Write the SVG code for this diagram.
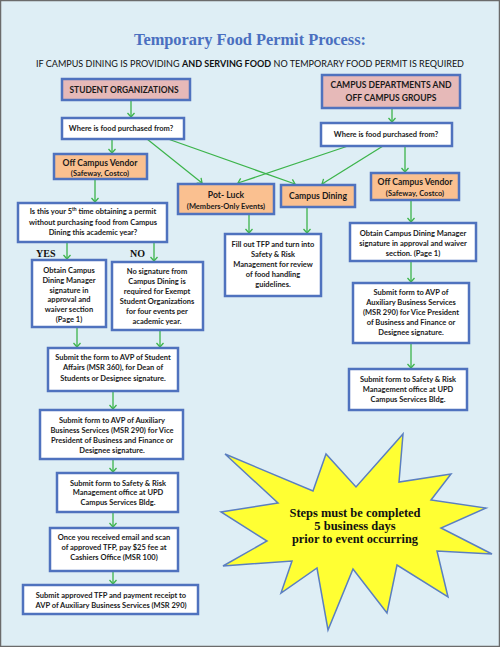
<svg xmlns="http://www.w3.org/2000/svg" width="500" height="647" viewBox="0 0 500 647">
<defs>
<marker id="ah" markerWidth="10" markerHeight="10" refX="5" refY="5" orient="auto" markerUnits="userSpaceOnUse">
<path d="M1,1.5 L5,5 L1,8.5" fill="none" stroke="#3cb44b" stroke-width="1.3"/>
</marker>
<style>
.box{fill:#ffffff;stroke:#4f72be;stroke-width:2.5}
.org{fill:#fac090;stroke:#4f72be;stroke-width:2.5}
.pink{fill:#e6b9b8;stroke:#4f72be;stroke-width:2.5}
.t{font-family:Lato,"Liberation Sans",sans-serif;font-weight:bold;font-size:7.5px;fill:#1a1a1a;text-anchor:middle}
.h{font-family:Lato,"Liberation Sans",sans-serif;font-weight:bold;font-size:9px;fill:#1a1a1a;text-anchor:middle}
.tl{font-family:Lato,"Liberation Sans",sans-serif;font-weight:bold;font-size:8.6px;fill:#1a1a1a;text-anchor:middle}
.s{font-family:"Liberation Serif",serif;font-weight:bold;fill:#111}
.c line{stroke:#3cb44b;stroke-width:1.3;marker-end:url(#ah)}
</style>
</defs>
<rect x="0.5" y="0.5" width="499" height="646" fill="#deeef5" stroke="#6b6b6b" stroke-width="1.5"/>
<text x="250" y="45" font-family="Liberation Serif,serif" font-weight="bold" font-size="17" fill="#4a6fc0" text-anchor="middle" textLength="232" lengthAdjust="spacingAndGlyphs">Temporary Food Permit Process:</text>
<text x="250" y="67" font-family="Lato,Liberation Sans,sans-serif" font-size="9" fill="#111" text-anchor="middle" textLength="428" lengthAdjust="spacingAndGlyphs">IF CAMPUS DINING IS PROVIDING <tspan font-weight="bold">AND SERVING FOOD</tspan> NO TEMPORARY FOOD PERMIT IS REQUIRED</text>

<g class="c">
<line x1="131" y1="100" x2="131" y2="117"/>
<line x1="392" y1="108" x2="392" y2="122"/>
<line x1="112" y1="139" x2="112" y2="153"/>
<line x1="147" y1="139" x2="202" y2="183"/>
<line x1="168" y1="139" x2="295" y2="184"/>
<line x1="348" y1="146" x2="238" y2="183"/>
<line x1="383" y1="146" x2="322" y2="184"/>
<line x1="405" y1="146" x2="405" y2="172"/>
<line x1="95" y1="179" x2="95" y2="202"/>
<line x1="67" y1="242" x2="67" y2="259"/>
<line x1="154" y1="242" x2="154" y2="261"/>
<line x1="249" y1="214" x2="249" y2="233"/>
<line x1="307" y1="207" x2="307" y2="233"/>
<line x1="411" y1="200" x2="411" y2="222"/>
<line x1="411" y1="261" x2="411" y2="282"/>
<line x1="411" y1="343" x2="411" y2="368"/>
<line x1="77" y1="327" x2="77" y2="347"/>
<line x1="160" y1="330" x2="160" y2="347"/>
<line x1="113" y1="391" x2="113" y2="409"/>
<line x1="113" y1="459" x2="113" y2="472"/>
<line x1="113" y1="512" x2="113" y2="527"/>
<line x1="113" y1="571" x2="113" y2="584"/>
</g>

<g id="student-orgs">
<rect class="pink" x="62" y="79" width="128" height="21"/>
<text class="h" x="124" y="93" textLength="109" lengthAdjust="spacingAndGlyphs">STUDENT ORGANIZATIONS</text>
</g>
<g id="campus-depts">
<rect class="pink" x="322" y="75" width="138" height="33"/>
<text class="h" x="391" y="88" textLength="121" lengthAdjust="spacingAndGlyphs">CAMPUS DEPARTMENTS AND</text>
<text class="h" x="391" y="101" textLength="91" lengthAdjust="spacingAndGlyphs">OFF CAMPUS GROUPS</text>
</g>
<g id="where-left">
<rect class="box" x="62" y="118" width="122" height="21"/>
<text class="t" x="121" y="131">Where is food purchased from?</text>
</g>
<g id="where-right">
<rect class="box" x="321" y="123" width="131" height="23"/>
<text class="t" x="386" y="137">Where is food purchased from?</text>
</g>
<g id="vendor-left">
<rect class="org" x="54" y="154" width="93" height="25"/>
<text class="tl" x="100" y="166">Off Campus Vendor</text>
<text class="t" x="100" y="176">(Safeway, Costco)</text>
</g>
<g id="potluck">
<rect class="org" x="178" y="184" width="96" height="30"/>
<text class="tl" x="226" y="198">Pot- Luck</text>
<text class="t" x="226" y="209">(Members-Only Events)</text>
</g>
<g id="campus-dining">
<rect class="org" x="281" y="185" width="74" height="22"/>
<text class="tl" x="318" y="199">Campus Dining</text>
</g>
<g id="vendor-right">
<rect class="org" x="371" y="173" width="88" height="27"/>
<text class="tl" x="415" y="185">Off Campus Vendor</text>
<text class="t" x="415" y="196">(Safeway, Costco)</text>
</g>
<g id="fifth-time">
<rect class="box" x="18" y="203" width="149" height="39"/>
<text class="t" x="93" y="214">Is this your 5<tspan font-size="5" dy="-3">th</tspan><tspan dy="3"> time obtaining a permit</tspan></text>
<text class="t" x="93" y="224.5">without purchasing food from Campus</text>
<text class="t" x="93" y="235">Dining this academic year?</text>
</g>
<text class="s" x="36" y="257" font-size="10">YES</text>
<text class="s" x="130" y="257" font-size="10">NO</text>
<g id="obtain-left">
<rect class="box" x="32" y="260" width="74" height="67"/>
<text class="t" x="69" y="272.5">Obtain Campus</text>
<text class="t" x="69" y="282.5">Dining Manager</text>
<text class="t" x="69" y="292.5">signature in</text>
<text class="t" x="69" y="302">approval and</text>
<text class="t" x="69" y="312">waiver section</text>
<text class="t" x="69" y="322">(Page 1)</text>
</g>
<g id="no-signature">
<rect class="box" x="112" y="262" width="91" height="68"/>
<text class="t" x="157" y="273.5">No signature from</text>
<text class="t" x="157" y="283.5">Campus Dining is</text>
<text class="t" x="157" y="293.5">required for Exempt</text>
<text class="t" x="157" y="303.5">Student Organizations</text>
<text class="t" x="157" y="313.5">for four events per</text>
<text class="t" x="157" y="323.5">academic year.</text>
</g>
<g id="fill-out">
<rect class="box" x="225" y="234" width="96" height="62"/>
<text class="t" x="273" y="246.5">Fill out TFP and turn into</text>
<text class="t" x="273" y="256.5">Safety &amp; Risk</text>
<text class="t" x="273" y="266.5">Management for review</text>
<text class="t" x="273" y="276.5">of food handling</text>
<text class="t" x="273" y="286.5">guidelines.</text>
</g>
<g id="obtain-right">
<rect class="box" x="350" y="223" width="126" height="38"/>
<text class="t" x="413" y="235.5">Obtain Campus Dining Manager</text>
<text class="t" x="413" y="245.5">signature in approval and waiver</text>
<text class="t" x="413" y="255.5">section. (Page 1)</text>
</g>
<g id="aux-right">
<rect class="box" x="353" y="283" width="116" height="60"/>
<text class="t" x="411" y="294.5">Submit form to AVP of</text>
<text class="t" x="411" y="304.5">Auxiliary Business Services</text>
<text class="t" x="411" y="314.5">(MSR 290) for Vice President</text>
<text class="t" x="411" y="324.5">of Business and Finance or</text>
<text class="t" x="411" y="334.5">Designee signature.</text>
</g>
<g id="safety-right">
<rect class="box" x="349" y="369" width="118" height="41"/>
<text class="t" x="408" y="381.5">Submit form to Safety &amp; Risk</text>
<text class="t" x="408" y="391.5">Management office at UPD</text>
<text class="t" x="408" y="401.5">Campus Services Bldg.</text>
</g>
<g id="student-affairs">
<rect class="box" x="48" y="348" width="130" height="43"/>
<text class="t" x="113" y="359.5">Submit the form to AVP of Student</text>
<text class="t" x="113" y="370">Affairs (MSR 360), for Dean of</text>
<text class="t" x="113" y="380.5">Students or Designee signature.</text>
</g>
<g id="aux-left">
<rect class="box" x="40" y="410" width="143" height="49"/>
<text class="t" x="112" y="422.5">Submit form to AVP of Auxiliary</text>
<text class="t" x="112" y="432.5">Business Services (MSR 290) for Vice</text>
<text class="t" x="112" y="442.5">President of Business and Finance or</text>
<text class="t" x="112" y="452.5">Designee signature.</text>
</g>
<g id="safety-left">
<rect class="box" x="57" y="473" width="121" height="39"/>
<text class="t" x="118" y="485.5">Submit form to Safety &amp; Risk</text>
<text class="t" x="118" y="495">Management office at UPD</text>
<text class="t" x="118" y="504.5">Campus Services Bldg.</text>
</g>
<g id="pay-fee">
<rect class="box" x="50" y="528" width="128" height="43"/>
<text class="t" x="114" y="539.5">Once you received email and scan</text>
<text class="t" x="114" y="549.5">of approved TFP, pay $25 fee at</text>
<text class="t" x="114" y="559.5">Cashiers Office (MSR 100)</text>
</g>
<g id="submit-receipt">
<rect class="box" x="23" y="585" width="175" height="29"/>
<text class="t" x="111" y="597.5">Submit approved TFP and payment receipt to</text>
<text class="t" x="111" y="607.5">AVP of Auxiliary Business Services (MSR 290)</text>
</g>
<g id="starburst">
<polygon points="225,454 313,491 326,454 356,487 403,434 399,482 451,474 431,500 486,508 441,528 492,554 437,551 448,597 397,565 387,613 353,569 328,630 317,568 281,593 292,561 223,566 267,541 221,512 278,503" fill="#ffff33" stroke="#5b7fc0" stroke-width="1.5" stroke-linejoin="miter"/>
<text class="s" x="355" y="517" font-size="12.5" text-anchor="middle" textLength="131" lengthAdjust="spacingAndGlyphs">Steps must be completed</text>
<text class="s" x="355" y="530" font-size="12.5" text-anchor="middle">5 business days</text>
<text class="s" x="355" y="543" font-size="12.5" text-anchor="middle" textLength="126" lengthAdjust="spacingAndGlyphs">prior to event occurring</text>
</g>
</svg>
